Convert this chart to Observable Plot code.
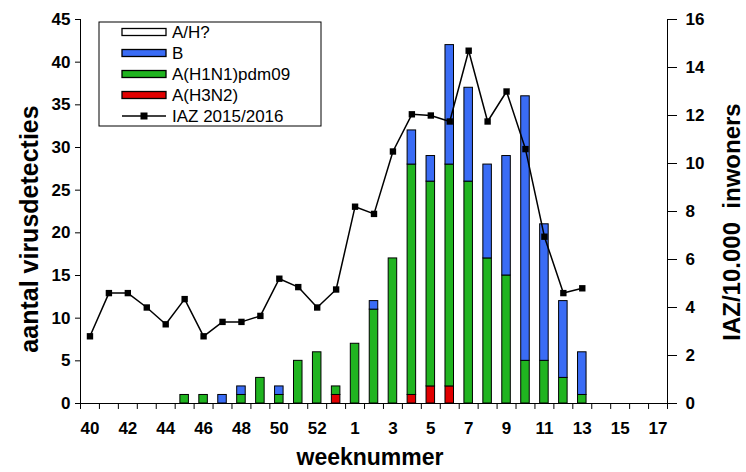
<!DOCTYPE html>
<html><head><meta charset="utf-8">
<script src="https://cdn.jsdelivr.net/npm/d3@7"></script>
<script src="https://cdn.jsdelivr.net/npm/@observablehq/plot@0.6"></script>
<style>
body{margin:0;background:#fff}
#chart{position:relative;width:746px;height:472px}
</style>
</head><body><div id="chart"></div>
<script>
// ---- data ----
const weeks = ["40","41","42","43","44","45","46","47","48","49","50","51","52","53",
  "1","2","3","4","5","6","7","8","9","10","11","12","13","14","15","16","17"];
const h3n2      = [0,0,0,0,0,0,0,0,0,0,0,0,0,1, 0,0,0,1,2,2,0,0,0,0,0,0,0,0,0,0,0];
const h1n1      = [0,0,0,0,0,1,1,0,1,3,1,5,6,1, 7,11,17,27,24,26,26,17,15,5,5,3,1,0,0,0,0];
const fluB      = [0,0,0,0,0,0,0,1,1,0,1,0,0,0, 0,1,0,4,3,14,11,11,14,31,16,9,5,0,0,0,0];
const ahUnknown = [0,0,0,0,0,0,0,0,0,0,0,0,0,0, 0,0,0,0,0,0,0,0,0,0,0,0,0,0,0,0,0];
const iazWeeks = ["40","41","42","43","44","45","46","47","48","49","50","51","52","53",
  "1","2","3","4","5","6","7","8","9","10","11","12","13"];
const iaz = [2.8,4.6,4.6,4.0,3.3,4.35,2.8,3.4,3.4,3.65,5.2,4.85,4.0,4.75,
  8.2,7.9,10.5,12.05,12.0,11.75,14.7,11.75,13.0,10.6,6.95,4.6,4.8];
const leftTicks = [0,5,10,15,20,25,30,35,40,45];
const rightTicks = [0,2,4,6,8,10,12,14,16];
const labelWeeks = ["40","42","44","46","48","50","52","1","3","5","7","9","11","13","15","17"];
const seriesNames = ["A/H?","B","A(H1N1)pdm09","A(H3N2)"];
const seriesColors = ["#ffffff","#3a6cf5","#20b420","#e00000"];
const lineName = "IAZ 2015/2016";
const yTitle = "aantal virusdetecties";
const y2Title = "IAZ/10.000  inwoners";
const xTitle = "weeknummer";

// ---- build tables ----
const stackOrder = [["A(H3N2)",h3n2],["A(H1N1)pdm09",h1n1],["B",fluB],["A/H?",ahUnknown]];
const tidy = [];
weeks.forEach((w,i)=>{ stackOrder.forEach(([name,arr])=>{ tidy.push({week:w, series:name, value:arr[i]}); }); });
const bars = tidy.filter(d=>d.value>0);
const k = 45/16; // right-axis units to left-axis units
const iazData = iazWeeks.map((w,i)=>({week:w, v:iaz[i]}));

const W=746,H=472,ml=80,mr=79,mt=19,mb=69;
const step=(W-ml-mr)/weeks.length;
const FF="Liberation Sans, Arial, Helvetica, sans-serif";

const plot = Plot.plot({
  width:W, height:H, marginLeft:ml, marginRight:mr, marginTop:mt, marginBottom:mb,
  style:{fontFamily:FF, fontWeight:"bold", fontSize:"17px", color:"black", background:"white", overflow:"visible"},
  x:{type:"band", domain:weeks, paddingInner:0.55, paddingOuter:0.275, round:false},
  y:{domain:[0,45]},
  color:{domain:seriesNames, range:seriesColors},
  marks:[
    Plot.axisX({ticks:labelWeeks, tickSize:0, tickPadding:18, label:null, fontSize:17, fontWeight:"bold"}),
    Plot.axisY({ticks:leftTicks, tickSize:5, tickPadding:5, label:null, fontSize:17, fontWeight:"bold"}),
    Plot.axisY({anchor:"right", ticks:rightTicks.map(v=>v*k), tickFormat:d=>String(Math.round(d/k)), tickSize:9, tickPadding:9, label:null, fontSize:17, fontWeight:"bold"}),
    Plot.ruleX(weeks, {x:d=>d, y1:0, y2:-0.7, dx:-step/2, stroke:"black"}),
    Plot.ruleX([weeks[weeks.length-1]], {x:d=>d, y1:-0.7, y2:45, dx:step/2, stroke:"black"}),
    Plot.ruleX([weeks[0]], {x:d=>d, y1:0, y2:45, dx:-step/2, stroke:"black"}),
    Plot.ruleY([0], {stroke:"black"}),
    Plot.barY(bars, {x:"week", y:"value", fill:"series", stroke:"black", strokeWidth:1}),
    Plot.line(iazData, {x:"week", y:d=>d.v*k, stroke:"black", strokeWidth:1.5}),
    Plot.dot(iazData, {x:"week", y:d=>d.v*k, symbol:"square", fill:"black", r:3.6})
  ]
});
document.getElementById("chart").appendChild(plot);

const svg = d3.select(plot);
// ---- axis titles ----
const tg = svg.append("g").attr("font-family",FF).attr("font-weight","bold").attr("fill","black").attr("text-anchor","middle");
tg.append("text").attr("transform","translate(38,229) rotate(-90)").attr("font-size",25).text(yTitle);
tg.append("text").attr("transform","translate(740,222) rotate(-90)").attr("font-size",24).text(y2Title);
tg.append("text").attr("transform","translate(370,465)").attr("font-size",23).text(xTitle);

// ---- legend (inside the plot area) ----
const lg = svg.append("g").attr("font-family",FF).attr("font-size",17).attr("font-weight","normal").attr("text-anchor","start");
lg.append("rect").attr("x",99).attr("y",22).attr("width",222).attr("height",104).attr("fill","white").attr("stroke","black");
const rowY = i => 32 + i*21;
seriesNames.forEach((name,i)=>{
  lg.append("rect").attr("x",122).attr("y",rowY(i)-3.5).attr("width",44).attr("height",7)
    .attr("fill",seriesColors[i]).attr("stroke","black").attr("stroke-width",1.3);
  lg.append("text").attr("x",172).attr("y",rowY(i)).attr("dy","0.36em").text(name);
});
const li = seriesNames.length;
lg.append("line").attr("x1",122).attr("x2",166).attr("y1",rowY(li)).attr("y2",rowY(li)).attr("stroke","black").attr("stroke-width",1.5);
lg.append("rect").attr("x",140.5).attr("y",rowY(li)-3.5).attr("width",7).attr("height",7).attr("fill","black");
lg.append("text").attr("x",172).attr("y",rowY(li)).attr("dy","0.36em").text(lineName);
</script>
</body></html>
